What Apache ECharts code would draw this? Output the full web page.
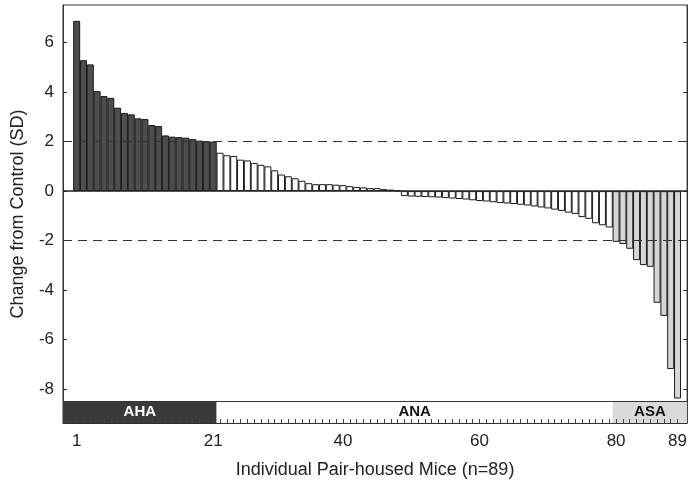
<!DOCTYPE html>
<html>
<head>
<meta charset="utf-8">
<script src="https://cdn.jsdelivr.net/npm/echarts@6/dist/echarts.min.js"></script>
<style>
  html, body { margin: 0; padding: 0; background: #fff; }
  #chart { width: 690px; height: 490px; }
</style>
</head>
<body>
<div id="chart"></div>
<script>
// data (SD change per mouse, sorted)
var ahaValues = [6.88, 5.29, 5.12, 4.04, 3.84, 3.77, 3.37, 3.16, 3.10, 2.94, 2.91,
                 2.67, 2.63, 2.25, 2.20, 2.18, 2.16, 2.10, 2.04, 2.02, 2.00];
var anaValues = [1.55, 1.45, 1.42, 1.27, 1.24, 1.14, 1.06, 1.00, 0.84, 0.67, 0.60,
                 0.52, 0.42, 0.32, 0.28, 0.28, 0.28, 0.26, 0.24, 0.20, 0.17, 0.15,
                 0.12, 0.12, 0.08, 0.06, 0.03,
                 -0.20, -0.22, -0.23, -0.24, -0.25, -0.26, -0.28, -0.30, -0.32, -0.34,
                 -0.37, -0.40, -0.42, -0.45, -0.48, -0.50, -0.52, -0.55, -0.58, -0.62,
                 -0.66, -0.70, -0.75, -0.80, -0.87, -0.92, -1.05, -1.12, -1.30, -1.38, -1.47];
var asaValues = [-2.05, -2.14, -2.33, -2.79, -2.99, -3.06, -4.51, -5.04, -7.19, -8.38];

var groupNames = ['AHA', 'ANA', 'ASA'];
var groupColors = ['#4d4d4d', '#ffffff', '#d6d6d6'];
var bandColors = ['#3a3a3a', '#ffffff', '#dadada'];
var bandTextColors = ['#ffffff', '#111111', '#111111'];

var yTicks = [-8, -6, -4, -2, 0, 2, 4, 6];
var xTickLabels = [1, 21, 40, 60, 80, 89];
var thresholds = [2, -2];

var yMin = -9.37, yMax = 7.52, bandTop = -8.48;
var xMin = -1, xMax = 90.4;

// build bar data, one colour per group
var groups = [ahaValues, anaValues, asaValues];
var barData = [];
var bandEdges = [xMin];
var idx = 1;
groups.forEach(function (vals, g) {
    vals.forEach(function (v) {
        barData.push({ value: [idx, v], itemStyle: { color: groupColors[g] } });
        idx++;
    });
    bandEdges.push(g < 2 ? idx - 0.5 : xMax);
});
var nMice = idx - 1;
var miceIdx = [];
for (var i = 1; i <= nMice; i++) miceIdx.push(i);

var bandData = groupNames.map(function (name, g) {
    return [{
        name: name,
        xAxis: bandEdges[g], yAxis: yMin,
        itemStyle: { color: bandColors[g] },
        label: { color: bandTextColors[g] }
    }, {
        xAxis: bandEdges[g + 1], yAxis: bandTop
    }];
});

var font = '"Liberation Sans", Arial, sans-serif';

var myChart = echarts.init(document.getElementById('chart'));
var option = {
    animation: false,
    grid: {
        left: 63, right: 1, top: 5, bottom: 67,
        show: true, borderColor: '#333', borderWidth: 1
    },
    xAxis: {
        type: 'value',
        min: xMin, max: xMax,
        z: 5,
        name: 'Individual Pair-housed Mice (n=' + nMice + ')',
        nameLocation: 'middle',
        nameGap: 38,
        nameTextStyle: { fontFamily: font, fontSize: 18, color: '#222' },
        axisLine: { show: true, onZero: false, lineStyle: { color: '#333', width: 1 } },
        axisTick: { show: true, inside: true, length: 4, customValues: miceIdx,
                    lineStyle: { color: '#444' } },
        axisLabel: { customValues: xTickLabels, margin: 10,
                     fontFamily: font, fontSize: 17, color: '#222' },
        splitLine: { show: false }
    },
    yAxis: [{
        type: 'value',
        min: yMin, max: yMax,
        name: 'Change from Control (SD)',
        nameLocation: 'middle',
        nameGap: 36,
        nameTextStyle: { fontFamily: font, fontSize: 18, color: '#222' },
        axisLine: { show: true, onZero: false, lineStyle: { color: '#333' } },
        axisTick: { show: true, inside: true, length: 4, customValues: yTicks,
                    lineStyle: { color: '#333' } },
        axisLabel: { customValues: yTicks, margin: 9,
                     fontFamily: font, fontSize: 17, color: '#222' },
        splitLine: { show: false }
    }, {
        type: 'value',
        position: 'right',
        min: yMin, max: yMax,
        axisLine: { show: true, onZero: false, lineStyle: { color: '#333' } },
        axisTick: { show: true, inside: true, length: 4, customValues: yTicks,
                    lineStyle: { color: '#333' } },
        axisLabel: { show: false },
        splitLine: { show: false }
    }],
    series: [{
        type: 'bar',
        data: barData,
        barWidth: 7,
        itemStyle: { borderColor: '#1a1a1a', borderWidth: 1 },
        markArea: {
            silent: true,
            label: { show: true, position: 'inside', fontFamily: font,
                     fontSize: 15, fontWeight: 'bold' },
            data: bandData
        },
        markLine: {
            silent: true,
            symbol: 'none',
            label: { show: false },
            data: [
                { yAxis: 0, lineStyle: { type: 'solid', color: '#222', width: 1.5 } },
                { yAxis: bandTop, lineStyle: { type: 'solid', color: '#333', width: 1 } }
            ].concat(thresholds.map(function (t) {
                return { yAxis: t, lineStyle: { type: [9, 6], color: '#333', width: 1.2 } };
            }))
        }
    }]
};
myChart.setOption(option);
</script>
</body>
</html>
